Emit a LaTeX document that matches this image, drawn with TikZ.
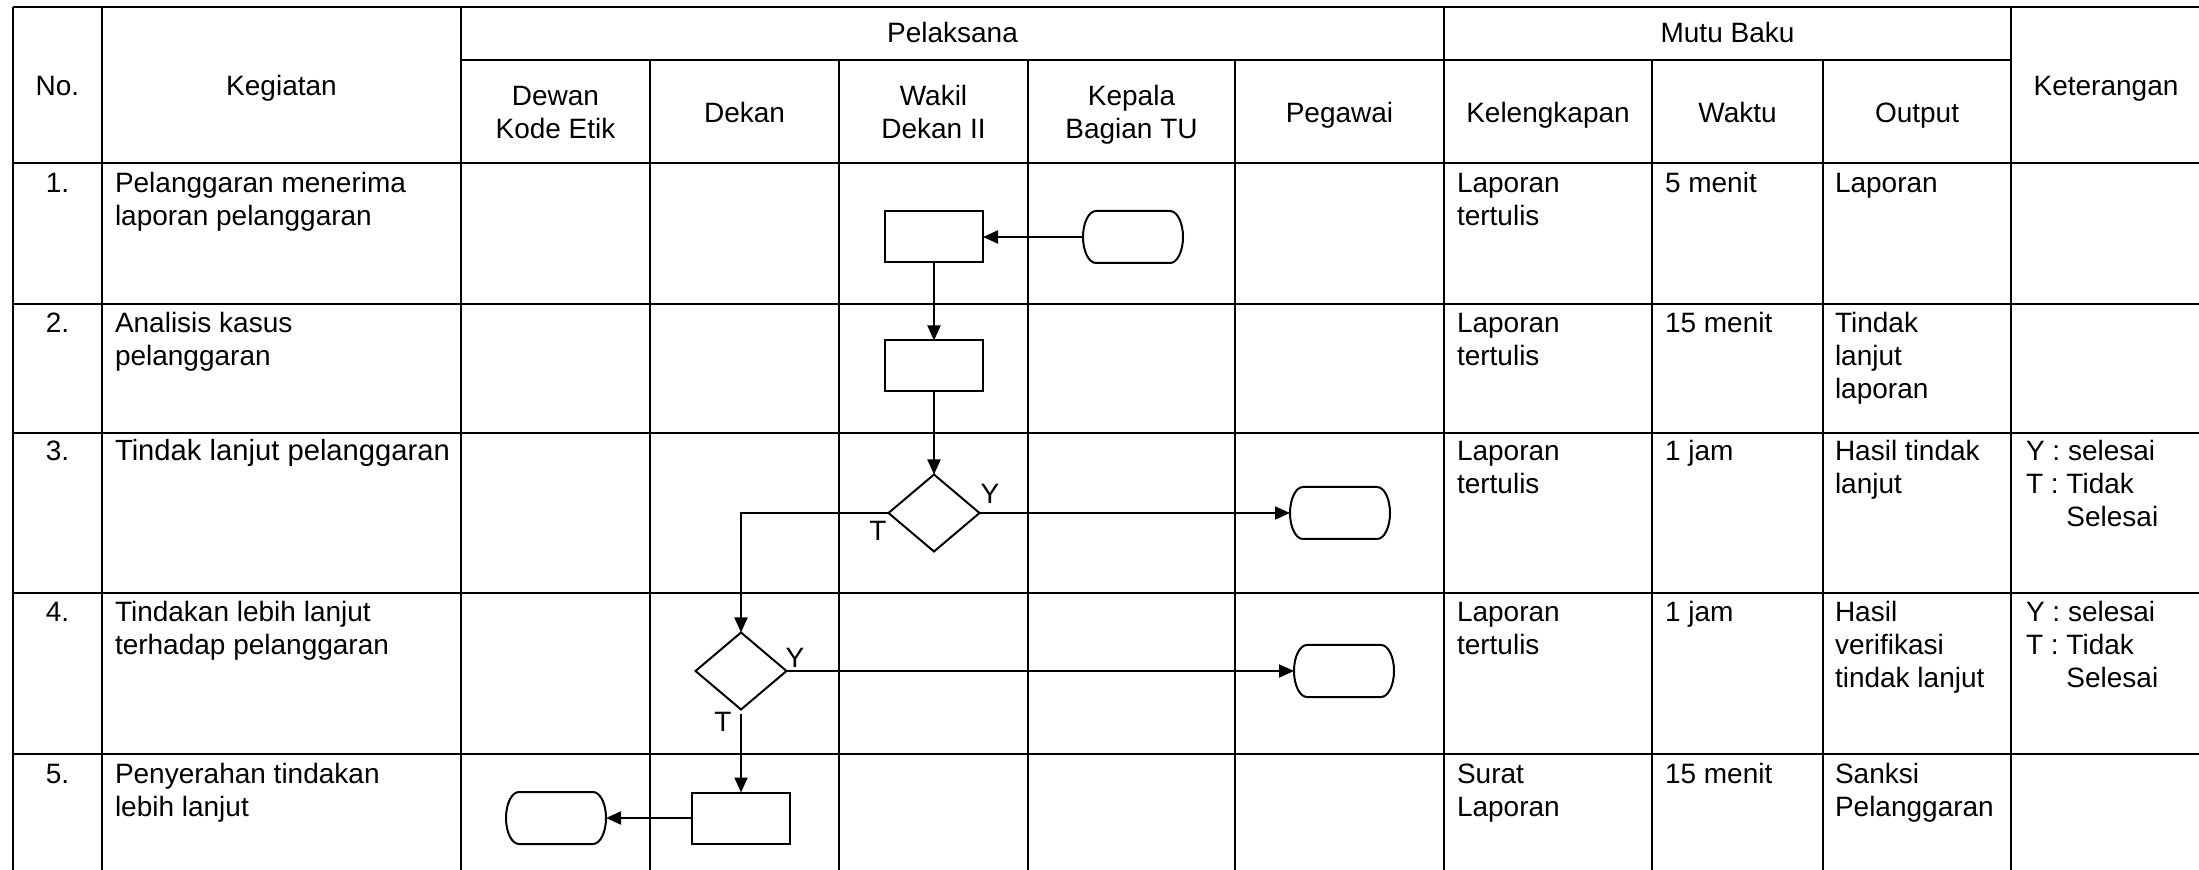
\documentclass[tikz,border=0pt]{standalone}
\usepackage{fontspec}
\setmainfont{Liberation Sans}
\usetikzlibrary{shapes.geometric,arrows.meta,calc}

% stacked cell text: first baseline is the node's base
\newcommand\cellL[1]{\begin{tabular}[t]{@{}l@{}}#1\end{tabular}}
\newcommand\cellC[1]{\begin{tabular}[t]{@{}c@{}}#1\end{tabular}}
\newcommand\ketTS{\cellL{Y : selesai\\T : Tidak\\\hphantom{T : }Selesai}}

\begin{document}
\begin{tikzpicture}[x=0.5pt,y=-0.5pt,
  every node/.style={font=\fontsize{14}{16.5}\selectfont, inner sep=0pt, outer sep=0pt},
  grid/.style={line width=1.1pt},
  hdr/.style={anchor=base},
  txt/.style={anchor=base west},
  num/.style={anchor=base},
  lbl/.style={anchor=center},
  box/.style={draw, line width=1pt, rectangle, minimum width=49pt, minimum height=25.5pt},
  term/.style={rectangle, minimum width=50pt, minimum height=26pt},
  termline/.style={line width=1pt},
  decision/.style={draw, line width=1pt, diamond, aspect=1.18, minimum width=45.5pt, minimum height=38.5pt},
  flow/.style={line width=1pt, -{Triangle[length=7.5pt,width=6.5pt]}}
]
\useasboundingbox (0,0) rectangle (2199,870);
\clip (0,0) rectangle (2199,870);

% ---- table rules ----
\foreach \yy in {7,163,304,433,593,754}
  \draw[grid] (13,\yy) -- (2215,\yy);
\draw[grid] (461,60) -- (2011,60);
\foreach \xx in {13,102,461,1444,2011}
  \draw[grid] (\xx,7) -- (\xx,880);
\foreach \xx in {650,839,1028,1235,1652,1823}
  \draw[grid] (\xx,60) -- (\xx,880);

% ---- header ----
\node[hdr] (hNo)  at (57.5,96)  {No.};
\node[hdr] (hKeg) at (281.5,96) {Kegiatan};
\node[hdr] (hPel) at (952.5,43) {Pelaksana};
\node[hdr] (hMutu) at (1727.5,43) {Mutu Baku};
\node[hdr] (hKet) at (2106,96) {Keterangan};
\node[hdr] (hDewan) at (555.5,106) {\cellC{Dewan\\Kode Etik}};
\node[hdr] (hDekan) at (744.5,123) {Dekan};
\node[hdr] (hWakil) at (933.5,106) {\cellC{Wakil\\Dekan II}};
\node[hdr] (hKabag) at (1131.5,106) {\cellC{Kepala\\Bagian TU}};
\node[hdr] (hPeg) at (1339.5,123) {Pegawai};
\node[hdr] (hKel) at (1548,123) {Kelengkapan};
\node[hdr] (hWak) at (1737.5,123) {Waktu};
\node[hdr] (hOut) at (1917,123) {Output};

% ---- row 1 ----
\node[num] (n1) at (57.5,193) {1.};
\node[txt] (k1) at (115,193) {\cellL{Pelanggaran menerima\\laporan pelanggaran}};
\node[txt] (l1) at (1457,193) {\cellL{Laporan\\tertulis}};
\node[txt] (w1) at (1665,193) {5 menit};
\node[txt] (o1) at (1835,193) {Laporan};

% ---- row 2 ----
\node[num] (n2) at (57.5,333) {2.};
\node[txt] (k2) at (115,333) {\cellL{Analisis kasus\\pelanggaran}};
\node[txt] (l2) at (1457,333) {\cellL{Laporan\\tertulis}};
\node[txt] (w2) at (1665,333) {15 menit};
\node[txt] (o2) at (1835,333) {\cellL{Tindak\\lanjut\\laporan}};

% ---- row 3 ----
\node[num] (n3) at (57.5,461) {3.};
\node[txt] (k3) at (115,461) {\fontsize{14.6}{16.5}\selectfont Tindak lanjut pelanggaran};
\node[txt] (l3) at (1457,461) {\cellL{Laporan\\tertulis}};
\node[txt] (w3) at (1665,461) {1 jam};
\node[txt] (o3) at (1835,461) {\cellL{Hasil tindak\\lanjut}};
\node[txt] (e3) at (2026,461) {\ketTS};

% ---- row 4 ----
\node[num] (n4) at (57.5,622) {4.};
\node[txt] (k4) at (115,622) {\cellL{Tindakan lebih lanjut\\terhadap pelanggaran}};
\node[txt] (l4) at (1457,622) {\cellL{Laporan\\tertulis}};
\node[txt] (w4) at (1665,622) {1 jam};
\node[txt] (o4) at (1835,622) {\cellL{Hasil\\verifikasi\\tindak lanjut}};
\node[txt] (e4) at (2026,622) {\ketTS};

% ---- row 5 ----
\node[num] (n5) at (57.5,783) {5.};
\node[txt] (k5) at (115,783) {\cellL{Penyerahan tindakan\\lebih lanjut}};
\node[txt] (l5) at (1457,783) {\cellL{Surat\\Laporan}};
\node[txt] (w5) at (1665,783) {15 menit};
\node[txt] (o5) at (1835,783) {\cellL{Sanksi\\Pelanggaran}};

% ---- flow symbols ----
\node[term] (t1) at (1133,237) {};
\node[box]  (r1) at (934,237) {};
\node[box]  (r2) at (934,366) {};
\node[decision] (d1) at (934,513) {};
\node[term] (t2) at (1340,513) {};
\node[decision] (d2) at (741,671) {};
\node[term] (t3) at (1344,671) {};
\node[box]  (r3) at (741,818) {};
\node[term] (t4) at (556,818) {};

% terminator outlines: straight top and bottom, elliptic ends
\foreach \n in {t1,t2,t3,t4}
  \draw[termline] ($(\n.north west)+(13,0)$) -- ($(\n.north east)+(-13,0)$)
    arc[start angle=90, end angle=-90, x radius=6.5pt, y radius=13pt]
    -- ($(\n.south west)+(13,0)$)
    arc[start angle=270, end angle=90, x radius=6.5pt, y radius=13pt] -- cycle;

\node[lbl] (y1) at (990,494) {Y};
\node[lbl] (f1) at (878,531) {T};
\node[lbl] (y2) at (795,658) {Y};
\node[lbl] (f2) at (723,722) {T};

% ---- connectors ----
\draw[flow] (t1) -- (r1);
\draw[flow] (r1) -- (r2);
\draw[flow] (r2) -- (d1);
\draw[flow] (d1.east) -- (t2);
\draw[flow] (d1.west) -| (d2.north);
\draw[flow] (d2.east) -- (t3);
\draw[flow, shorten <=2pt] (d2.south) -- (r3.north);
\draw[flow] (r3) -- (t4);
\end{tikzpicture}
\end{document}
